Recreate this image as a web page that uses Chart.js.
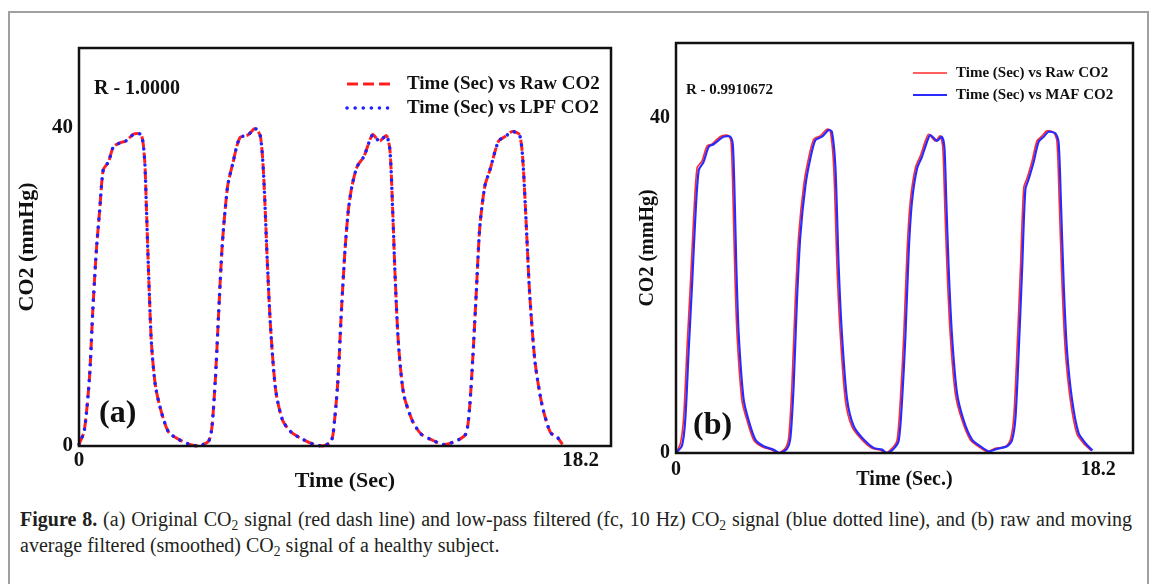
<!DOCTYPE html>
<html>
<head>
<meta charset="utf-8">
<script src="https://cdn.jsdelivr.net/npm/chart.js@4.4.1/dist/chart.umd.min.js"></script>
<style>
  html, body { margin: 0; padding: 0; background: #fff; }
  body { width: 1152px; height: 584px; position: relative; overflow: hidden; font-family: "Liberation Serif", serif; }
  #frame { position: absolute; left: 8px; top: 11px; width: 1137px; height: 640px; border: 2px solid #a0a0a0; }
  canvas { position: absolute; top: 0; }
  #panelA { left: 0; }
  #panelB { left: 620px; }
  #caption { position: absolute; left: 20px; top: 506px; width: 1112px; font-size: 20px; line-height: 26px; color: #231f20; }
  #caption .l1 { white-space: nowrap; display: inline-block; }
  #caption sub { font-size: 0.68em; line-height: 0; vertical-align: -0.3em; }
</style>
</head>
<body>
<div id="frame"></div>
<canvas id="panelA" width="640" height="500"></canvas>
<canvas id="panelB" width="530" height="500"></canvas>
<div id="caption">
  <div class="l1"><b>Figure 8.</b> (a) Original CO<sub>2</sub> signal (red dash line) and low-pass filtered (fc, 10 Hz) CO<sub>2</sub> signal (blue dotted line), and (b) raw and moving</div>
  <div>average filtered (smoothed) CO<sub>2</sub> signal of a healthy subject.</div>
</div>
<script>
// panel (a): raw vs low-pass filtered CO2 (the two traces coincide, R = 1.0000)
const timeA = [0, 0.19, 0.38, 0.50, 0.63, 0.75, 0.88, 1.07, 1.25, 1.50,
  1.69, 2.0, 2.26, 2.38, 2.44, 2.53, 2.63, 2.78, 3.01, 3.26,
  3.63, 4.01, 4.32, 4.70, 4.82, 4.95, 5.07, 5.20, 5.39, 5.58,
  5.83, 6.14, 6.39, 6.58, 6.70, 6.83, 6.95, 7.14, 7.39, 7.71,
  8.14, 8.52, 8.83, 9.15, 9.27, 9.40, 9.52, 9.65, 9.77, 9.90,
  10.09, 10.34, 10.65, 10.90, 11.15, 11.28, 11.38, 11.47, 11.59, 11.78,
  12.09, 12.41, 12.78, 13.22, 13.66, 14.03, 14.16, 14.28, 14.41, 14.54,
  14.72, 14.91, 15.22, 15.47, 15.72, 15.98, 16.10, 16.23, 16.35, 16.54,
  16.79, 17.10, 17.35, 17.54];
const rawA = [0.2, 1.9, 8.6, 17.0, 24.6, 29.6, 34.7, 35.7, 37.6, 38.1,
  38.3, 39.2, 39.1, 36.0, 30.5, 21.2, 12.8, 7.4, 4.0, 1.7,
  0.8, 0.2, 0, 0.6, 2.3, 8.6, 17.0, 25.4, 32.6, 35.5,
  38.7, 39.1, 39.9, 38.9, 33.9, 23.3, 14.9, 6.9, 3.2, 1.7,
  0.8, 0.2, 0, 0.6, 3.2, 8.6, 17.0, 24.6, 29.6, 32.6,
  35.1, 36.4, 39.1, 38.3, 39.0, 37.2, 29.6, 21.2, 12.8, 6.5,
  3.2, 1.5, 0.8, 0.2, 0.6, 1.5, 4.4, 10.7, 19.1, 27.5,
  32.6, 34.7, 38.3, 38.9, 39.5, 39.1, 36.0, 27.5, 19.1, 10.7,
  5.3, 1.7, 1.1, 0.2];
const lpfA = rawA.slice(); // overlaps the raw trace exactly
const xTicksA = [0, 18.2];
const yTicksA = [0, 40];

// panel (b): raw vs moving-average filtered CO2 (blue lags slightly)
const timeB = [0, 0.19, 0.33, 0.47, 0.62, 0.76, 0.91, 1.12, 1.34, 1.55,
  1.77, 1.98, 2.27, 2.38, 2.46, 2.53, 2.63, 2.84, 3.06, 3.35,
  3.71, 4.14, 4.40, 4.71, 4.86, 5.00, 5.14, 5.29, 5.51, 5.72,
  5.94, 6.22, 6.51, 6.65, 6.80, 6.94, 7.08, 7.30, 7.59, 8.02,
  8.45, 8.81, 9.02, 9.31, 9.53, 9.67, 9.82, 9.96, 10.10, 10.32,
  10.53, 10.75, 10.89, 11.18, 11.39, 11.50, 11.58, 11.68, 11.82, 12.04,
  12.33, 12.69, 13.05, 13.41, 13.77, 14.20, 14.41, 14.56, 14.70, 14.85,
  14.99, 15.14, 15.35, 15.56, 15.78, 15.99, 16.28, 16.42, 16.52, 16.64,
  16.78, 17.00, 17.28, 17.57, 17.90];
const rawB = [0, 1.15, 4.3, 12.3, 20.2, 28.1, 34.1, 34.9, 36.7, 36.9,
  37.5, 37.9, 37.9, 36.9, 30.1, 22.2, 14.2, 6.3, 3.9, 1.55,
  0.75, 0.36, 0, 0.56, 1.9, 8.3, 18.2, 26.1, 32.1, 35.3,
  37.5, 37.9, 38.7, 38.5, 34.1, 22.2, 14.2, 6.3, 3.1, 1.55,
  0.56, 0.36, 0, 0.56, 1.55, 6.3, 14.2, 24.1, 30.1, 34.1,
  35.5, 37.3, 38.1, 37.3, 37.9, 36.5, 30.1, 22.2, 14.2, 7.1,
  3.9, 1.55, 0.75, 0.15, 0.56, 0.75, 1.55, 4.3, 12.3, 22.2,
  31.7, 32.9, 34.9, 37.3, 37.9, 38.5, 38.3, 37.3, 30.1, 20.2,
  12.3, 6.3, 2.3, 1.15, 0.27];
const timeMafB = [0, 0.26, 0.40, 0.54, 0.69, 0.83, 0.98, 1.19, 1.41, 1.62,
  1.84, 2.05, 2.34, 2.45, 2.53, 2.60, 2.70, 2.91, 3.13, 3.42,
  3.78, 4.21, 4.47, 4.78, 4.93, 5.07, 5.21, 5.36, 5.58, 5.79,
  6.01, 6.29, 6.58, 6.72, 6.87, 7.01, 7.15, 7.37, 7.66, 8.09,
  8.52, 8.88, 9.09, 9.38, 9.60, 9.74, 9.89, 10.03, 10.17, 10.39,
  10.60, 10.82, 10.96, 11.25, 11.46, 11.57, 11.65, 11.75, 11.89, 12.11,
  12.40, 12.76, 13.12, 13.48, 13.84, 14.27, 14.48, 14.63, 14.77, 14.92,
  15.06, 15.21, 15.42, 15.63, 15.85, 16.06, 16.35, 16.49, 16.59, 16.71,
  16.85, 17.07, 17.35, 17.64, 17.95];
const mafB = [0, 0.9, 4.0, 12.0, 20.0, 28.0, 33.8, 34.8, 36.6, 36.9,
  37.4, 37.8, 37.8, 36.8, 30.2, 22.3, 14.3, 6.5, 3.9, 1.6,
  0.8, 0.4, 0, 0.5, 1.8, 8.0, 18.0, 26.0, 32.0, 35.2,
  37.4, 37.8, 38.6, 38.4, 34.2, 22.4, 14.3, 6.5, 3.2, 1.6,
  0.6, 0.4, 0, 0.5, 1.5, 6.1, 14.0, 24.0, 30.0, 34.0,
  35.4, 37.2, 38.0, 37.3, 37.8, 36.5, 30.2, 22.3, 14.3, 7.2,
  3.9, 1.6, 0.8, 0.2, 0.5, 0.8, 1.5, 4.1, 12.0, 22.0,
  31.5, 32.8, 34.8, 37.2, 37.8, 38.4, 38.2, 37.2, 30.2, 20.3,
  12.4, 6.4, 2.4, 1.2, 0.3];
const xTicksB = [0, 18.2];
const yTicksB = [0, 40];

function pairs(t, v) { return t.map((x, i) => ({ x: x, y: v[i] })); }
function bold(size) { return { family: '"Liberation Serif", serif', size: size, weight: 'bold' }; }

// stretch the first caption line to the full width by word spacing
const line1 = document.querySelector('#caption .l1');
const gaps = line1.textContent.trim().split(/\s+/).length - 1;
line1.style.wordSpacing = ((1112 - line1.getBoundingClientRect().width) / gaps) + 'px';

const decor = {
  id: 'decor',
  afterDatasetsDraw(chart, args, o) {
    const ctx = chart.ctx, a = chart.chartArea;
    ctx.save();
    ctx.strokeStyle = '#111';
    ctx.lineWidth = o.box;
    ctx.strokeRect(a.left, a.top, a.right - a.left, a.bottom - a.top);
    ctx.fillStyle = '#111';
    ctx.textBaseline = 'middle';
    ctx.font = 'bold ' + o.rSize + 'px "Liberation Serif"';
    ctx.fillText(o.rText, o.rX, o.rY);
    ctx.font = 'bold ' + o.tagSize + 'px "Liberation Serif"';
    ctx.fillText(o.tag, o.tagX, o.tagY);
    ctx.font = 'bold ' + o.legSize + 'px "Liberation Serif"';
    o.legY.forEach((y, i) => {
      const ds = chart.data.datasets[i];
      ctx.beginPath();
      ctx.setLineDash(ds.borderDash || []);
      ctx.lineCap = ds.borderCapStyle || 'butt';
      ctx.strokeStyle = ds.borderColor;
      ctx.lineWidth = ds.borderWidth;
      ctx.moveTo(o.legX0, y);
      ctx.lineTo(o.legX1, y);
      ctx.stroke();
      ctx.setLineDash([]);
      ctx.fillText(ds.label, o.legTextX, y);
    });
    ctx.restore();
  }
};

function makePanel(id, datasets, cfg) {
  return new Chart(document.getElementById(id), {
    type: 'line',
    data: { datasets: datasets },
    plugins: [decor],
    options: {
      responsive: false,
      animation: false,
      devicePixelRatio: 1,
      layout: { padding: { top: cfg.top, right: cfg.right, left: 0, bottom: 0 } },
      elements: { point: { radius: 0 }, line: { tension: 0.25 } },
      plugins: { legend: { display: false }, tooltip: { enabled: false }, decor: cfg.decor },
      scales: {
        x: {
          type: 'linear', min: 0, max: cfg.xMax,
          grid: { display: false, drawTicks: false },
          border: { display: false },
          afterBuildTicks: s => { s.ticks = cfg.xTicks.map(v => ({ value: v })); },
          afterFit: s => { s.height = cfg.xAxisH; },
          ticks: { font: bold(cfg.tickSize), color: '#111', padding: cfg.xPad, maxRotation: 0, autoSkip: false, callback: v => String(v) },
          title: { display: true, text: cfg.xTitle, font: bold(cfg.titleSize), color: '#111', padding: { top: 0, bottom: cfg.xTitlePad } }
        },
        y: {
          min: 0, max: cfg.yMax,
          grid: { display: false, drawTicks: false },
          border: { display: false },
          afterBuildTicks: s => { s.ticks = cfg.yTicks.map(v => ({ value: v })); },
          afterFit: s => { s.width = cfg.yAxisW; },
          ticks: { font: bold(cfg.tickSize), color: '#111', padding: 6, callback: v => String(v) },
          title: { display: true, text: 'CO2 (mmHg)', font: bold(cfg.titleSize), color: '#111', padding: { top: cfg.yTitlePad, bottom: 0 } }
        }
      }
    }
  });
}

makePanel('panelA', [
  { label: 'Time (Sec) vs Raw CO2', data: pairs(timeA, rawA), borderColor: '#ff1f1f', borderWidth: 3,
    borderDash: [11, 5], order: 1, clip: 6 },
  { label: 'Time (Sec) vs LPF CO2', data: pairs(timeA, lpfA), borderColor: '#1f1fff', borderWidth: 3.5,
    borderDash: [0.1, 8], borderCapStyle: 'round', order: 0, clip: 6 }
], {
  top: 48, right: 29, xMax: 19.3, yMax: 50, xTicks: xTicksA, yTicks: yTicksA,
  xAxisH: 54, yAxisW: 79, tickSize: 21, titleSize: 22, xPad: 2, xTitlePad: 5, yTitlePad: 14,
  xTitle: 'Time (Sec)',
  decor: { box: 2.5, rText: 'R - 1.0000', rSize: 20, rX: 94, rY: 89, tag: '(a)', tagSize: 32, tagX: 99, tagY: 414,
    legSize: 19, legY: [84, 108], legX0: 347, legX1: 391, legTextX: 407 }
});

makePanel('panelB', [
  { label: 'Time (Sec) vs Raw CO2', data: pairs(timeB, rawB), borderColor: '#ff2a2a', borderWidth: 1.6, order: 1, clip: 6 },
  { label: 'Time (Sec) vs MAF CO2', data: pairs(timeMafB, mafB), borderColor: '#2a2aff', borderWidth: 2.2, order: 0, clip: 6 }
], {
  top: 43, right: 17, xMax: 19.7, yMax: 49, xTicks: xTicksB, yTicks: yTicksB,
  xAxisH: 47, yAxisW: 56, tickSize: 20, titleSize: 20, xPad: 5, xTitlePad: 8, yTitlePad: 16,
  xTitle: 'Time (Sec.)',
  decor: { box: 2.5, rText: 'R - 0.9910672', rSize: 15, rX: 66, rY: 90, tag: '(b)', tagSize: 32, tagX: 73, tagY: 426,
    legSize: 15, legY: [73, 95], legX0: 293, legX1: 327, legTextX: 336 }
});
</script>
</body>
</html>
